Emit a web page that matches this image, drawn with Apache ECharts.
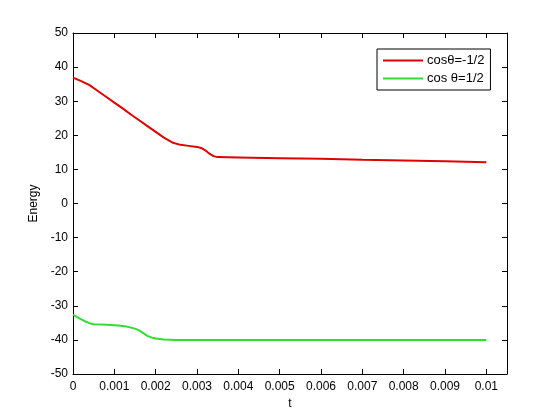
<!DOCTYPE html>
<html>
<head>
<meta charset="utf-8">
<script src="https://cdn.jsdelivr.net/npm/echarts@6/dist/echarts.min.js"></script>
<style>
  html, body { margin: 0; padding: 0; background: #fff; }
  #chart { width: 560px; height: 420px; }
</style>
</head>
<body>
<div id="chart"></div>
<script>
// 数据: 时间 t 和两条能量曲线
const redT = [0, 0.0002, 0.0004, 0.0006, 0.0008, 0.001, 0.0012, 0.0014, 0.0016, 0.0018,
  0.002, 0.0022, 0.0024, 0.0026, 0.0028, 0.003, 0.0031, 0.0032, 0.0033, 0.0034,
  0.0035, 0.004, 0.005, 0.006, 0.007, 0.008, 0.009, 0.01]
const redEnergy = [36.9, 35.9, 34.7, 33.0, 31.3, 29.6, 27.9, 26.1, 24.4, 22.7,
  21.0, 19.3, 17.9, 17.2, 16.9, 16.6, 16.3, 15.6, 14.6, 13.9,
  13.6, 13.5, 13.3, 13.1, 12.8, 12.6, 12.4, 12.1]

const greenT = [0, 0.0001, 0.0002, 0.0003, 0.0004, 0.0005, 0.0007, 0.0009, 0.0011, 0.0013,
  0.0015, 0.0016, 0.0017, 0.0018, 0.0019, 0.002, 0.0022, 0.0025, 0.003, 0.01]
const greenEnergy = [-32.6, -33.3, -34.0, -34.6, -35.1, -35.4, -35.5, -35.6, -35.8, -36.1,
  -36.7, -37.2, -38.0, -38.8, -39.3, -39.6, -39.9, -40.0, -40.0, -40.0]

const seriesNames = ['cosθ=-1/2', 'cos θ=1/2']

const font = 'Liberation Sans, Arial, sans-serif'
const myChart = echarts.init(document.getElementById('chart'))

const fmtT = (v) => {
  const r = Math.round(v * 10000) / 10000
  if (Math.abs(r * 1000 - Math.round(r * 1000)) > 1e-9) return ''
  return String(r)
}

const tickStyle = { show: true, inside: true, length: 5, lineStyle: { color: '#000' } }

const options = {
  animation: false,
  backgroundColor: '#fff',
  grid: { left: 73, right: 53, top: 33, bottom: 46 },
  legend: {
    left: 377,
    top: 49,
    orient: 'vertical',
    itemWidth: 40,
    itemHeight: 2,
    itemGap: 5,
    padding: [5, 6, 5, 6],
    borderColor: '#000',
    borderWidth: 1,
    icon: 'rect',
    textStyle: { fontFamily: font, fontSize: 13, color: '#000', padding: [0, 0, 0, -1] },
    data: seriesNames
  },
  xAxis: [
    {
      type: 'value',
      min: 0,
      max: 0.0105,
      interval: 0.001,
      name: 't',
      nameLocation: 'middle',
      nameGap: 22,
      nameTextStyle: { fontFamily: font, fontSize: 12, color: '#000' },
      splitLine: { show: false },
      axisLine: { show: true, onZero: false, lineStyle: { color: '#000' } },
      axisTick: tickStyle,
      axisLabel: { fontFamily: font, fontSize: 12, color: '#000', margin: 7, formatter: fmtT, showMaxLabel: false }
    },
    {
      type: 'value',
      position: 'top',
      min: 0,
      max: 0.0105,
      interval: 0.001,
      splitLine: { show: false },
      axisLine: { show: true, onZero: false, lineStyle: { color: '#000' } },
      axisTick: tickStyle,
      axisLabel: { show: false }
    }
  ],
  yAxis: [
    {
      type: 'value',
      min: -50,
      max: 50,
      interval: 10,
      name: 'Energy',
      nameLocation: 'middle',
      nameGap: 29,
      nameTextStyle: { fontFamily: font, fontSize: 12, color: '#000' },
      splitLine: { show: false },
      axisLine: { show: true, onZero: false, lineStyle: { color: '#000' } },
      axisTick: tickStyle,
      axisLabel: { fontFamily: font, fontSize: 12, color: '#000', margin: 5 }
    },
    {
      type: 'value',
      position: 'right',
      min: -50,
      max: 50,
      interval: 10,
      splitLine: { show: false },
      axisLine: { show: true, onZero: false, lineStyle: { color: '#000' } },
      axisTick: tickStyle,
      axisLabel: { show: false }
    }
  ],
  series: [
    {
      name: seriesNames[0],
      type: 'line',
      showSymbol: false,
      data: redT.map((t, i) => [t, redEnergy[i]]),
      lineStyle: { color: '#e00000', width: 2 },
      itemStyle: { color: '#e00000' }
    },
    {
      name: seriesNames[1],
      type: 'line',
      showSymbol: false,
      data: greenT.map((t, i) => [t, greenEnergy[i]]),
      lineStyle: { color: '#33dd33', width: 2 },
      itemStyle: { color: '#33dd33' }
    }
  ]
}

myChart.setOption(options)
</script>
</body>
</html>
